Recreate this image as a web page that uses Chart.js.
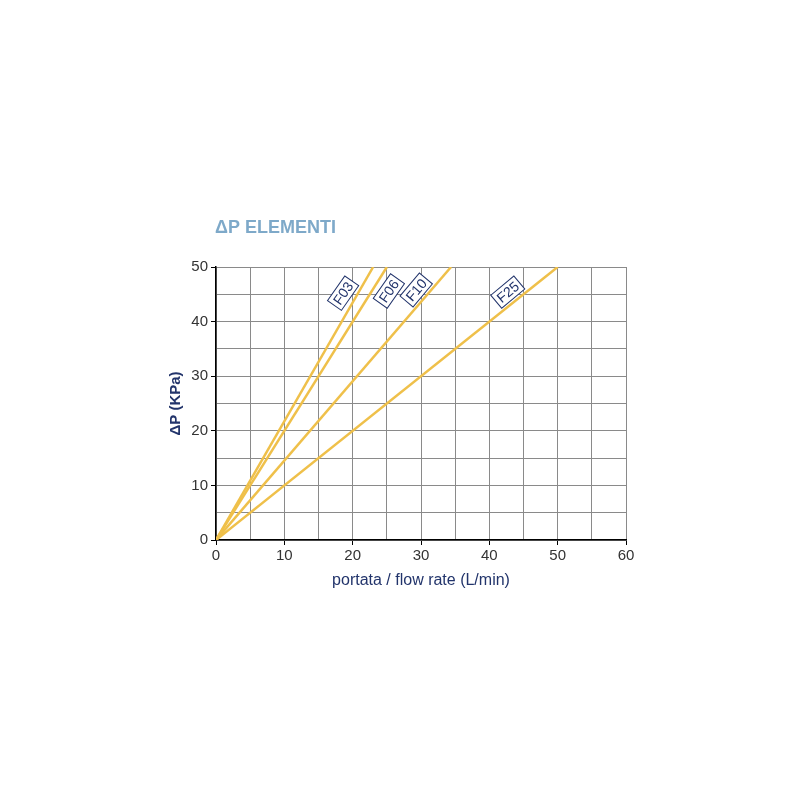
<!DOCTYPE html>
<html>
<head>
<meta charset="utf-8">
<script src="https://cdn.jsdelivr.net/npm/chart.js@4"></script>
<style>
  html, body { margin: 0; padding: 0; background: #ffffff; }
  #wrap { position: relative; width: 800px; height: 800px; }
</style>
</head>
<body>
<div id="wrap"><canvas id="chart" width="800" height="800"></canvas></div>
<script>
// series: straight lines from origin to the point where they leave the top of the plot
var seriesNames = ['F03', 'F06', 'F10', 'F25'];
var seriesFlow = [[0, 23], [0, 25], [0, 34.4], [0, 50]];
var seriesDp = [[0, 50], [0, 50], [0, 50], [0, 50]];

// tag boxes on each line (data coords + rotation in degrees)
var tagFlow = [18.6, 25.3, 29.3, 42.7];
var tagDp = [45.2, 45.6, 45.8, 45.4];
var tagAngle = [-55, -55, -50, -40];

var xTicks = [0, 10, 20, 30, 40, 50, 60];
var yTicks = [0, 10, 20, 30, 40, 50];

var lineColor = '#EFC04A';
var navy = '#22346b';
var font = '"Liberation Sans", Arial, sans-serif';

var datasets = seriesNames.map(function (name, i) {
    return {
        label: name,
        data: seriesFlow[i].map(function (x, j) { return { x: x, y: seriesDp[i][j] }; }),
        borderColor: lineColor,
        borderWidth: 2.5,
        pointRadius: 0,
        fill: false,
        tension: 0
    };
});

var tagPlugin = {
    id: 'tags',
    afterDatasetsDraw: function (chart) {
        var ctx = chart.ctx;
        var xs = chart.scales.x, ys = chart.scales.y;
        ctx.save();
        ctx.font = '14px ' + font;
        seriesNames.forEach(function (name, i) {
            var px = xs.getPixelForValue(tagFlow[i]);
            var py = ys.getPixelForValue(tagDp[i]);
            ctx.save();
            ctx.translate(px, py);
            ctx.rotate(tagAngle[i] * Math.PI / 180);
            var w = ctx.measureText(name).width + 6, h = 17;
            ctx.fillStyle = '#ffffff';
            ctx.fillRect(-w / 2, -h / 2, w, h);
            ctx.strokeStyle = navy;
            ctx.lineWidth = 1;
            ctx.strokeRect(-w / 2, -h / 2, w, h);
            ctx.fillStyle = navy;
            ctx.textAlign = 'center';
            ctx.textBaseline = 'middle';
            ctx.fillText(name, 0, 1);
            ctx.restore();
        });
        ctx.restore();
    }
};

var headPlugin = {
    id: 'head',
    afterDraw: function (chart) {
        var ctx = chart.ctx;
        ctx.save();
        ctx.font = 'bold 18px ' + font;
        ctx.fillStyle = '#7ea9c9';
        ctx.textBaseline = 'middle';
        ctx.fillText('\u0394P ELEMENTI', chart.chartArea.left - 1, 228);
        ctx.restore();
    }
};

new Chart(document.getElementById('chart'), {
    type: 'line',
    data: { datasets: datasets },
    options: {
        responsive: false,
        animation: false,
        layout: { padding: { left: 163, top: 267, right: 174, bottom: 206 } },
        scales: {
            x: {
                type: 'linear',
                min: 0, max: 60,
                afterFit: function (s) { s.height = 54; },
                ticks: {
                    stepSize: 5,
                    autoSkip: false,
                    maxRotation: 0,
                    color: '#333333',
                    padding: 2,
                    font: { size: 15, family: font },
                    callback: function (v) { return xTicks.indexOf(v) >= 0 ? String(v) : ''; }
                },
                grid: {
                    color: '#8a8a8a',
                    lineWidth: 1,
                    tickLength: 5,
                    tickColor: function (c) { return c.tick && c.tick.value % 10 === 0 ? '#000000' : 'rgba(0,0,0,0)'; }
                },
                border: { color: '#000000', width: 1.5 },
                title: {
                    display: true,
                    text: 'portata / flow rate (L/min)',
                    color: navy,
                    padding: { top: 3 },
                    font: { size: 16, family: font }
                }
            },
            y: {
                type: 'linear',
                min: 0, max: 50,
                afterFit: function (s) { s.width = 53; },
                ticks: {
                    stepSize: 5,
                    autoSkip: false,
                    color: '#333333',
                    padding: 3,
                    font: { size: 15, family: font },
                    callback: function (v) { return yTicks.indexOf(v) >= 0 ? String(v) : ''; }
                },
                grid: {
                    color: '#8a8a8a',
                    lineWidth: 1,
                    tickLength: 5,
                    tickColor: function (c) { return c.tick && c.tick.value % 10 === 0 ? '#000000' : 'rgba(0,0,0,0)'; }
                },
                border: { color: '#000000', width: 1.5 },
                title: {
                    display: true,
                    text: '\u0394P (KPa)',
                    color: navy,
                    padding: { bottom: 0 },
                    font: { size: 15, weight: 'bold', family: font }
                }
            }
        },
        plugins: {
            legend: { display: false },
            tooltip: { enabled: false }
        }
    },
    plugins: [tagPlugin, headPlugin]
});
</script>
</body>
</html>
